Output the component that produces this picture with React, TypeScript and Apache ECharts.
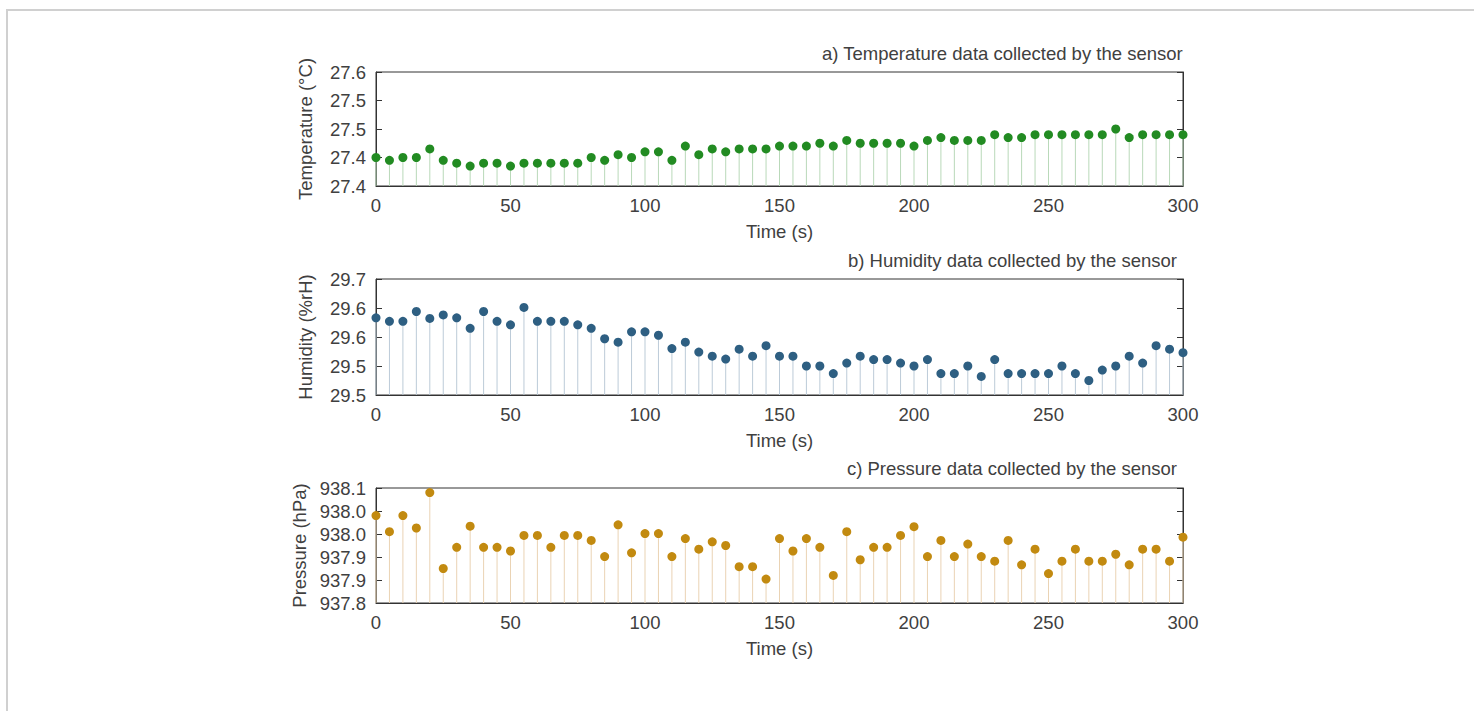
import React, { useEffect, useRef } from "react";
import * as echarts from "echarts";

const TIME = [
  0, 5, 10, 15, 20, 25, 30, 35, 40, 45, 50, 55, 60, 65, 70, 75, 80, 85, 90, 95,
  100, 105, 110, 115, 120, 125, 130, 135, 140, 145, 150, 155, 160, 165, 170, 175,
  180, 185, 190, 195, 200, 205, 210, 215, 220, 225, 230, 235, 240, 245, 250, 255,
  260, 265, 270, 275, 280, 285, 290, 295, 300,
];

const TEMPERATURE = [
  27.45, 27.445, 27.45, 27.45, 27.465, 27.445, 27.44, 27.435, 27.44, 27.44,
  27.435, 27.44, 27.44, 27.44, 27.44, 27.44, 27.45, 27.445, 27.455, 27.45,
  27.46, 27.46, 27.445, 27.47, 27.455, 27.465, 27.46, 27.465, 27.465, 27.465,
  27.47, 27.47, 27.47, 27.475, 27.47, 27.48, 27.475, 27.475, 27.475, 27.475,
  27.47, 27.48, 27.485, 27.48, 27.48, 27.48, 27.49, 27.485, 27.485, 27.49,
  27.49, 27.49, 27.49, 27.49, 27.49, 27.5, 27.485, 27.49, 27.49, 27.49, 27.49,
];

const HUMIDITY = [
  29.633, 29.627, 29.627, 29.644, 29.632, 29.638, 29.633, 29.615, 29.644, 29.627,
  29.621, 29.651, 29.627, 29.627, 29.627, 29.621, 29.615, 29.597, 29.591, 29.609,
  29.609, 29.603, 29.58, 29.591, 29.574, 29.567, 29.562, 29.579, 29.567, 29.585,
  29.567, 29.567, 29.55, 29.55, 29.537, 29.555, 29.567, 29.561, 29.561, 29.555,
  29.55, 29.561, 29.537, 29.537, 29.55, 29.532, 29.561, 29.537, 29.537, 29.537,
  29.537, 29.55, 29.537, 29.525, 29.543, 29.55, 29.567, 29.555, 29.585, 29.579,
  29.573,
];

const PRESSURE = [
  937.99, 937.955, 937.99, 937.963, 938.04, 937.875, 937.921, 937.967, 937.921,
  937.921, 937.913, 937.947, 937.947, 937.921, 937.947, 937.947, 937.936, 937.901,
  937.97, 937.909, 937.951, 937.951, 937.901, 937.94, 937.917, 937.933, 937.925,
  937.879, 937.879, 937.852, 937.94, 937.913, 937.94, 937.921, 937.86, 937.955,
  937.894, 937.921, 937.921, 937.947, 937.966, 937.901, 937.936, 937.901, 937.928,
  937.901, 937.891, 937.936, 937.883, 937.917, 937.864, 937.891, 937.917, 937.891,
  937.891, 937.906, 937.883, 937.917, 937.917, 937.891, 937.943,
];

const TEMP_TICKS = ["27.4", "27.4", "27.5", "27.5", "27.6"];
const HUM_TICKS = ["29.5", "29.5", "29.6", "29.6", "29.7"];
const PRES_TICKS = ["937.8", "937.9", "937.9", "938.0", "938.0", "938.1"];

const TITLES = [
  "a) Temperature data collected by the sensor",
  "b) Humidity data collected by the sensor",
  "c) Pressure data collected by the sensor",
];
const Y_NAMES = ["Temperature (°C)", "Humidity (%rH)", "Pressure (hPa)"];
const X_NAME = "Time (s)";

const FONT = "Liberation Sans, Arial, sans-serif";
const TEXT = "#404040";
const FS = 18.5;

export default function App() {
  const ref = useRef<HTMLDivElement>(null);

  useEffect(() => {
    if (!ref.current) return;
    const chart = echarts.init(ref.current, undefined, { renderer: "svg" });

    const panels = [
      { data: TEMPERATURE, ticks: TEMP_TICKS, min: 27.4, max: 27.6, dot: "#228b22", stem: "#b9d9b9", top: 72, height: 114, titleTop: 44, titleRight: 291 },
      { data: HUMIDITY, ticks: HUM_TICKS, min: 29.5, max: 29.7, dot: "#2e5f82", stem: "#bccbd8", top: 279, height: 116, titleTop: 251, titleRight: 297 },
      { data: PRESSURE, ticks: PRES_TICKS, min: 937.8, max: 938.05, dot: "#c28a10", stem: "#ead3b4", top: 488, height: 115, titleTop: 459, titleRight: 297 },
    ];

    const grids: any[] = [];
    const xAxes: any[] = [];
    const yAxes: any[] = [];
    const series: any[] = [];
    const titles: any[] = [];

    panels.forEach((p, i) => {
      grids.push({
        left: 376,
        right: 291,
        top: p.top,
        height: p.height,
        show: true,
        borderColor: "#333",
        borderWidth: 1,
        backgroundColor: "transparent",
      });
      titles.push({
        text: TITLES[i],
        right: p.titleRight,
        top: p.titleTop,
        padding: 0,
        textStyle: { fontFamily: FONT, fontSize: FS, fontWeight: "normal", color: TEXT },
      });
      xAxes.push({
        type: "value",
        gridIndex: i,
        min: 0,
        max: 300,
        interval: 50,
        name: X_NAME,
        nameLocation: "middle",
        nameGap: 36,
        nameTextStyle: { fontFamily: FONT, fontSize: FS, color: TEXT },
        axisLine: { show: true, lineStyle: { color: "#333", width: 1 } },
        axisTick: { show: false },
        splitLine: { show: false },
        axisLabel: { fontFamily: FONT, fontSize: FS, color: TEXT, margin: 10 },
      });
      const fmt = (v: number) => p.ticks[Math.round((v - p.min) / 0.05)] ?? "";
      yAxes.push({
        type: "value",
        gridIndex: i,
        min: p.min,
        max: p.max,
        interval: 0.05,
        name: Y_NAMES[i],
        nameLocation: "middle",
        nameGap: 61,
        nameTextStyle: { fontFamily: FONT, fontSize: FS, color: TEXT },
        axisLine: { show: true, lineStyle: { color: "#333", width: 1 } },
        axisTick: { show: true, inside: true, length: 6, lineStyle: { color: "#333" } },
        splitLine: { show: false },
        axisLabel: { fontFamily: FONT, fontSize: FS, color: TEXT, margin: 10, formatter: fmt },
      });
      yAxes.push({
        type: "value",
        gridIndex: i,
        position: "right",
        min: p.min,
        max: p.max,
        interval: 0.05,
        axisLine: { show: true, lineStyle: { color: "#333", width: 1 } },
        axisTick: { show: true, inside: true, length: 6, lineStyle: { color: "#333" } },
        splitLine: { show: false },
        axisLabel: { show: false },
      });
      const pts = TIME.map((t, k) => [t, p.data[k]]);
      series.push({
        type: "bar",
        xAxisIndex: i,
        yAxisIndex: i * 2,
        barWidth: 1,
        silent: true,
        itemStyle: { color: p.stem },
        data: pts,
      });
      series.push({
        type: "scatter",
        xAxisIndex: i,
        yAxisIndex: i * 2,
        symbolSize: 9,
        clip: false,
        silent: true,
        itemStyle: { color: p.dot, opacity: 1 },
        data: pts,
        z: 3,
      });
    });

    chart.setOption({
      animation: false,
      backgroundColor: "transparent",
      title: titles,
      grid: grids,
      xAxis: xAxes,
      yAxis: yAxes,
      series,
    });

    return () => chart.dispose();
  }, []);

  return (
    <>
      <div
        style={{
          position: "fixed",
          left: 6,
          top: 9,
          width: 1480,
          height: 720,
          borderTop: "2px solid #d0d0d0",
          borderLeft: "2px solid #d0d0d0",
          boxSizing: "border-box",
          background: "#fff",
        }}
      />
      <div
        ref={ref}
        style={{ position: "fixed", left: 0, top: 0, width: 1474, height: 711 }}
      />
    </>
  );
}
